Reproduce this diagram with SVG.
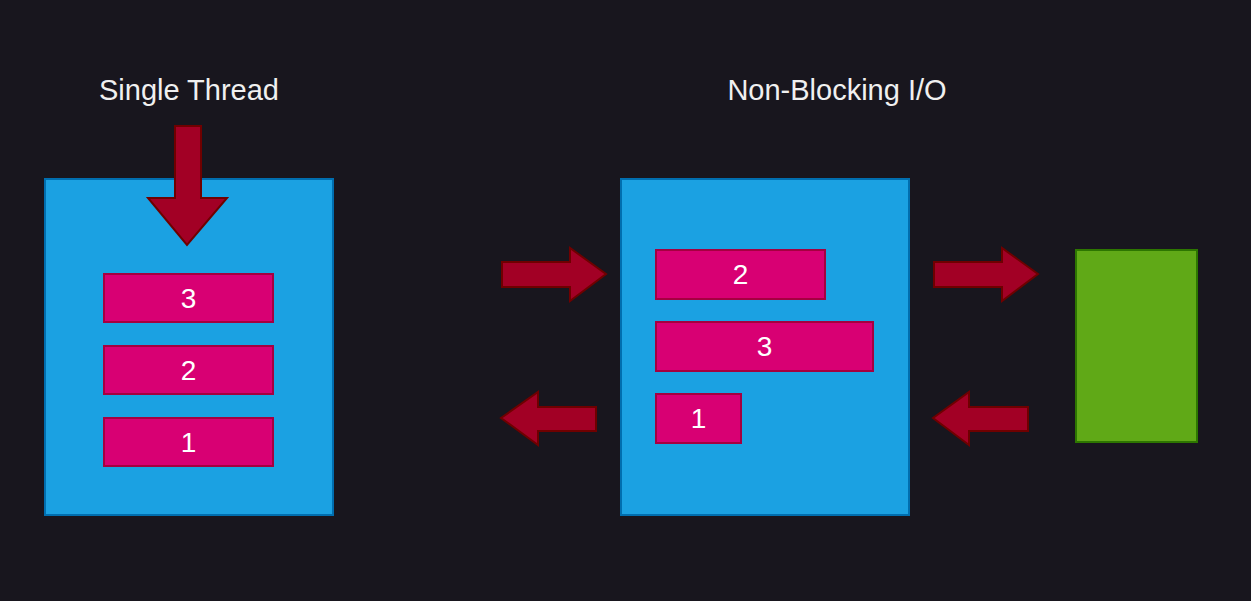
<svg xmlns="http://www.w3.org/2000/svg" width="1251" height="601" viewBox="0 0 1251 601">
<style>
.bg{fill:#18161e}
.box{fill:#1ba1e2;stroke:#006eaf;stroke-width:2}
.item{fill:#d80073;stroke:#a50040;stroke-width:2}
.ext{fill:#60a917;stroke:#2d7600;stroke-width:2}
.arr{fill:#a20025;stroke:#6f0000;stroke-width:2;stroke-linejoin:miter}
.title{font-family:"Liberation Sans",Arial,sans-serif;font-size:29px;fill:#f0f0f0;text-anchor:middle}
.num{font-family:"Liberation Sans",Arial,sans-serif;font-size:28px;fill:#ffffff;text-anchor:middle;dominant-baseline:central}
</style>
<rect class="bg" x="0" y="0" width="1251" height="601"/>
<g id="title-single"><text class="title" x="189" y="100">Single Thread</text></g>
<g id="title-nio"><text class="title" x="837" y="100">Non-Blocking I/O</text></g>
<g id="single-box">
<rect class="box" x="45" y="179" width="288" height="336"/>
</g>
<g id="single-3"><rect class="item" x="104" y="274" width="169" height="48"/><text class="num" x="188.5" y="298">3</text></g>
<g id="single-2"><rect class="item" x="104" y="346" width="169" height="48"/><text class="num" x="188.5" y="370">2</text></g>
<g id="single-1"><rect class="item" x="104" y="418" width="169" height="48"/><text class="num" x="188.5" y="442">1</text></g>
<g id="nio-box">
<rect class="box" x="621" y="179" width="288" height="336"/>
</g>
<g id="nio-2"><rect class="item" x="656" y="250" width="169" height="49"/><text class="num" x="740.5" y="274.5">2</text></g>
<g id="nio-3"><rect class="item" x="656" y="322" width="217" height="49"/><text class="num" x="764.5" y="346.5">3</text></g>
<g id="nio-1"><rect class="item" x="656" y="394" width="85" height="49"/><text class="num" x="698.5" y="418.5">1</text></g>
<g id="external"><rect class="ext" x="1076" y="250" width="121" height="192"/></g>
<g id="connectors">
<polygon class="arr" points="175,126 201,126 201,198 227,198 187,245 148,198 175,198"/>
<polygon class="arr" points="502,262 570,262 570,248 606,274 570,301 570,287 502,287"/>
<polygon class="arr" points="596,407 538,407 538,392 501,418 538,445 538,431 596,431"/>
<polygon class="arr" points="934,262 1002,262 1002,248 1038,274 1002,301 1002,287 934,287"/>
<polygon class="arr" points="1028,407 969,407 969,392 933,418 969,445 969,431 1028,431"/>
</g>
</svg>
